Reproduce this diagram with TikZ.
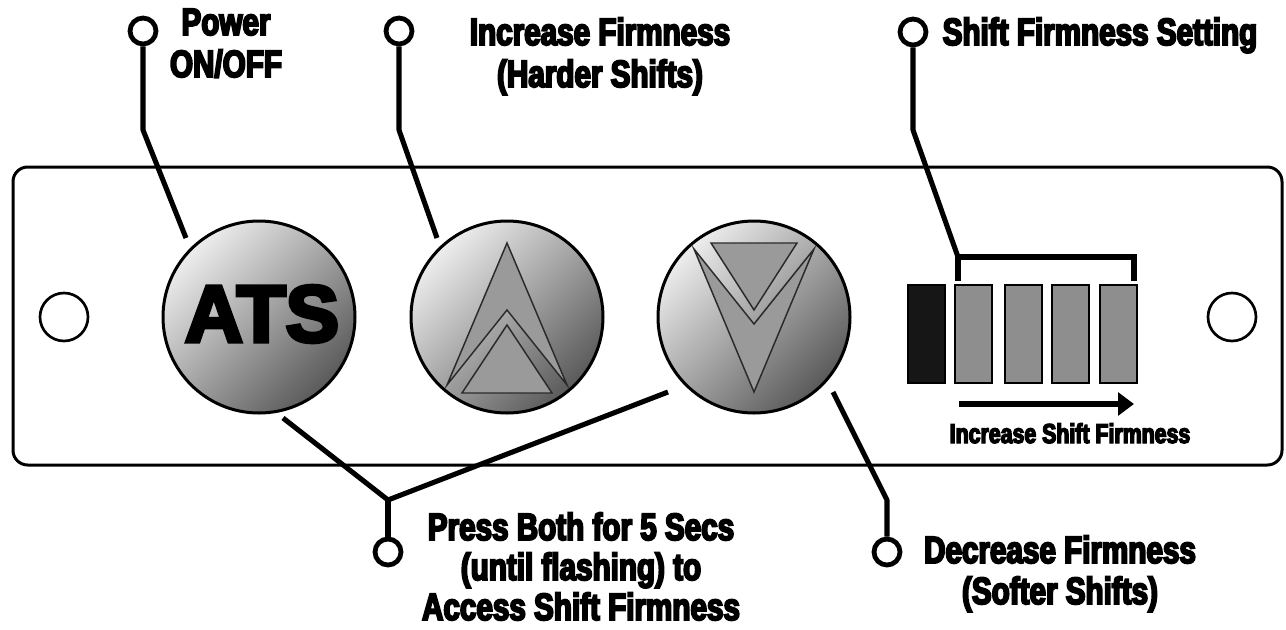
\documentclass[tikz,border=0pt]{standalone}
\usepackage{fontspec}
\usetikzlibrary{arrows.meta}
\newfontfamily\lblfont{Liberation Sans}[FakeStretch=0.78,FakeBold=5]
\newfontfamily\atsfont{Liberation Sans}[FakeBold=5]
\definecolor{btnlight}{HTML}{EDEDED}
\definecolor{btndark}{HTML}{5A5A5A}
\definecolor{symgray}{HTML}{9A9A9A}
\definecolor{symline}{HTML}{2A2A2A}
\definecolor{barblack}{HTML}{161616}
\definecolor{bargray}{HTML}{8E8E8E}
\begin{document}
\begin{tikzpicture}[x=0.75pt,y=-0.75pt,
  lbl/.style={font={\lblfont\bfseries\fontsize{28.5}{31}\selectfont}, inner sep=0pt, anchor=base},
  smalllbl/.style={font={\lblfont\bfseries\fontsize{20.5}{22}\selectfont}, inner sep=0pt, anchor=base},
  btn/.style={circle, draw=black, line width=2.25pt, minimum size=144pt, inner sep=0pt,
    top color=btnlight, bottom color=btndark, shading angle=45},
  sym/.style={fill=symgray, draw=symline, line width=1.1pt, line join=miter},
  hole/.style={circle, draw=black, line width=2pt, minimum size=36pt, inner sep=0pt},
  marker/.style={circle, draw=black, fill=white, line width=3.6pt, minimum size=19.5pt, inner sep=0pt},
  leader/.style={draw=black, line width=3.8pt, line join=round},
  barbox/.style={rectangle, draw=black, line width=1.5pt, minimum width=27.75pt, minimum height=73.5pt, inner sep=0pt},
]
\useasboundingbox (0,0) rectangle (1286,629);
\fill[white] (0,0) rectangle (1286,629);

% plate
\draw[line width=2.25pt, rounded corners=11pt] (13,167) rectangle (1282,465);
\node[hole] (holeL) at (64,317) {};
\node[hole] (holeR) at (1232,317) {};

% buttons
\node[btn] (ats) at (259,317) {};
\node[font={\atsfont\bfseries\fontsize{60}{60}\selectfont}, inner sep=0pt] (atstxt) at (262,314) {ATS};
\node[btn] (up) at (507,317) {};
\node[btn] (down) at (754,317) {};

\begin{scope}[shift={(507,317)}]
  \filldraw[sym] (0,-74) -- (60,68) -- (0,-7) -- (-60,68) -- cycle;
  \filldraw[sym] (0,8) -- (45,76) -- (-45,76) -- cycle;
\end{scope}
\begin{scope}[shift={(754,317)}]
  \filldraw[sym] (0,75) -- (60,-68) -- (0,7) -- (-60,-68) -- cycle;
  \filldraw[sym] (0,-7) -- (43,-74) -- (-43,-74) -- cycle;
\end{scope}

% bars
\node[barbox, fill=barblack] (bar0) at (926.5,334) {};
\node[barbox, fill=bargray] (bar1) at (973.5,334) {};
\node[barbox, fill=bargray] (bar2) at (1023,334) {};
\node[barbox, fill=bargray] (bar3) at (1070.5,334) {};
\node[barbox, fill=bargray] (bar4) at (1118.5,334) {};

% bracket
\coordinate (brL) at (958,257);
\coordinate (brR) at (1134,257);
\coordinate (brLd) at (958,281);
\coordinate (brRd) at (1134,281);
\draw[leader, line join=miter] (brLd) -- (brL) -- (brR) -- (brRd);

% arrow
\coordinate (arrS) at (959,404);
\coordinate (arrE) at (1134,404);
\draw[line width=4.5pt, -{Triangle[length=12pt,width=17pt]}] (arrS) -- (arrE);
\node[smalllbl] (lincr) at (1070,443) {Increase Shift Firmness};

% top leaders
\node[marker] (pmark) at (143,31) {};
\coordinate (pbend) at (143,130);
\coordinate (pend) at (186,238);
\draw[leader] (pmark) -- (pbend) -- (pend);
\node[lbl] (lpow1) at (226,35) {Power};
\node[lbl] (lpow2) at (226,77) {ON/OFF};

\node[marker] (imark) at (399,31) {};
\coordinate (ibend) at (399,130);
\coordinate (iend) at (437,238);
\draw[leader] (imark) -- (ibend) -- (iend);
\node[lbl] (linc1) at (600,45) {Increase Firmness};
\node[lbl] (linc2) at (600,87) {(Harder Shifts)};

\node[marker] (smark) at (913,32) {};
\coordinate (sbend) at (913,130);
\draw[leader] (smark) -- (sbend) -- (brL);
\node[lbl] (lsfs) at (1100,45) {Shift Firmness Setting};

% bottom leaders
\node[marker] (bmark) at (388,552) {};
\coordinate (bvert) at (388,500);
\coordinate (bendL) at (283,418);
\coordinate (bendR) at (668,392);
\draw[leader] (bendL) -- (bvert) -- (bendR);
\draw[leader] (bmark) -- (bvert);
\node[lbl] (lpb1) at (581,540) {Press Both for 5 Secs};
\node[lbl] (lpb2) at (581,580) {(until flashing) to};
\node[lbl] (lpb3) at (581,620) {Access Shift Firmness};

\node[marker] (dmark) at (887,552) {};
\coordinate (dbend) at (887,500);
\coordinate (dend) at (833,392);
\draw[leader] (dmark) -- (dbend) -- (dend);
\node[lbl] (ldec1) at (1060,563) {Decrease Firmness};
\node[lbl] (ldec2) at (1060,604) {(Softer Shifts)};
\end{tikzpicture}
\end{document}
